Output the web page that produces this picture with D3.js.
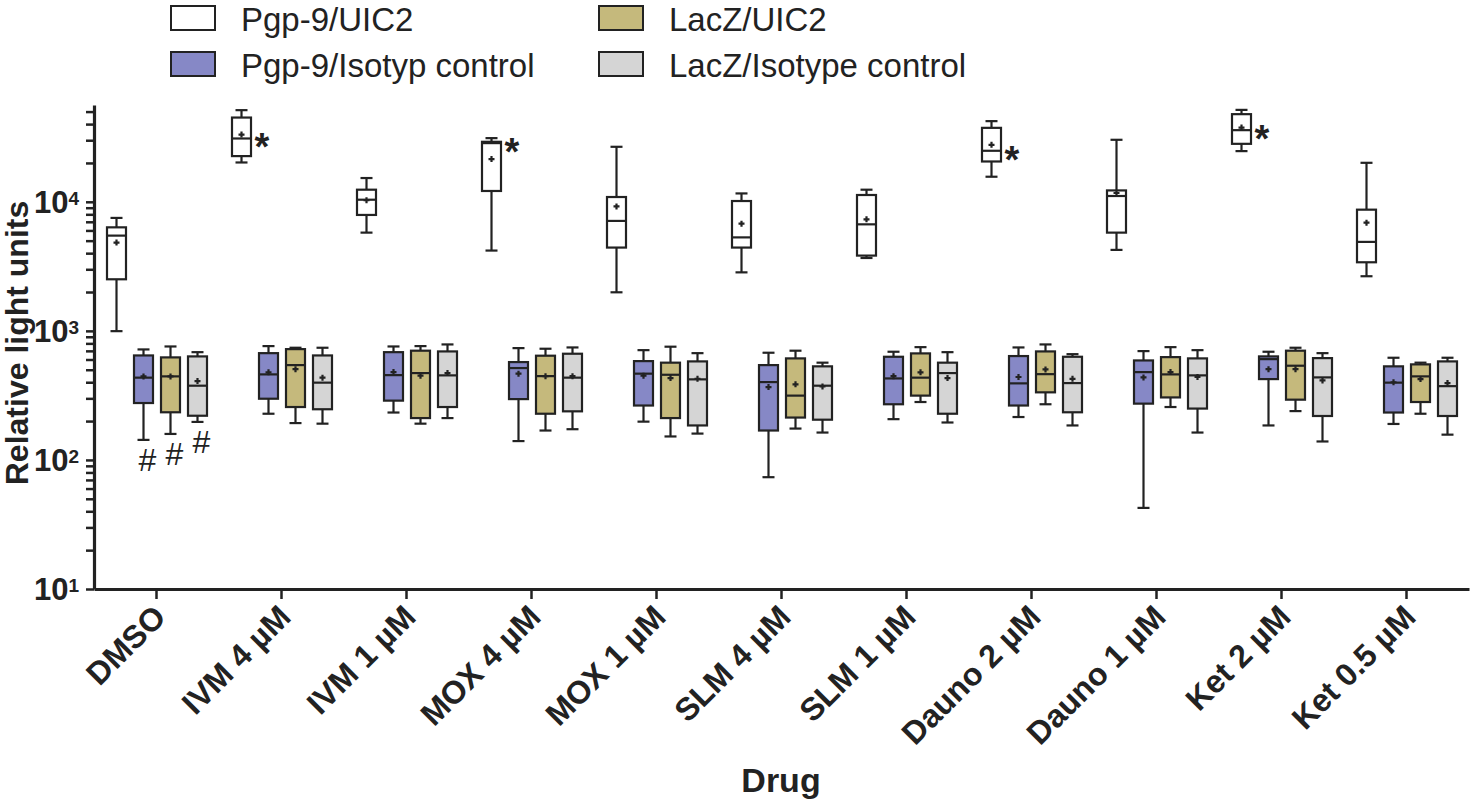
<!DOCTYPE html>
<html>
<head>
<meta charset="utf-8">
<script src="https://cdn.jsdelivr.net/npm/d3@7"></script>
<style>
	body { margin: 0; background: #fff; }
	svg { display: block; font-family: "Liberation Sans", Arial, sans-serif; }
	.axis path, .axis line { stroke: #222; }
	.box { stroke: #222; stroke-width: 2.2; }
	.whisker, .median, .mean { stroke: #222; stroke-width: 2.2; }
</style>
</head>
<body>
<div id="chart"></div>
<script>

// categories and series
var drugs = ["DMSO", "IVM 4 µM", "IVM 1 µM", "MOX 4 µM", "MOX 1 µM", "SLM 4 µM",
	"SLM 1 µM", "Dauno 2 µM", "Dauno 1 µM", "Ket 2 µM", "Ket 0.5 µM"];

var seriesNames = ["Pgp-9/UIC2", "Pgp-9/Isotyp control", "LacZ/UIC2", "LacZ/Isotype control"];

// rows per drug: [min, q1, median, q3, max, mean]
var pgpUic2 = [
	[995, 2510, 5470, 6340, 7500, 4830],
	[20170, 22600, 30940, 44950, 51300, 33200],
	[5770, 7910, 10380, 12410, 15280, 10300],
	[4190, 12130, 28490, 29170, 31140, 21430],
	[1990, 4420, 7110, 10890, 26680, 9210],
	[2840, 4420, 5300, 10140, 11610, 6770],
	[3670, 3830, 6690, 11290, 12410, 7310],
	[15640, 20530, 24850, 37410, 42170, 27650],
	[4240, 5770, 11090, 12250, 30230, 11700],
	[24700, 28130, 35900, 47750, 51550, 37600],
	[2650, 3400, 4890, 8690, 20050, 6890]
];

var pgpIso = [
	[143, 276, 434, 645, 718, 444],
	[228, 298, 460, 672, 762, 477],
	[233, 288, 454, 684, 757, 479],
	[140, 296, 515, 573, 735, 466],
	[198, 264, 466, 583, 709, 450],
	[73.5, 169, 401, 543, 677, 367],
	[207, 270, 428, 630, 689, 446],
	[215, 264, 392, 638, 744, 439],
	[42.5, 273, 479, 590, 697, 436],
	[185, 423, 604, 634, 689, 505],
	[190, 233, 397, 531, 619, 400]
];

var lacUic2 = [
	[159, 234, 444, 623, 757, 444],
	[193, 257, 543, 722, 740, 505],
	[191, 211, 471, 702, 762, 450],
	[169, 228, 446, 642, 727, 446],
	[152, 211, 457, 567, 754, 431],
	[175, 213, 315, 612, 702, 385],
	[281, 315, 434, 669, 748, 477],
	[270, 334, 462, 693, 785, 503],
	[257, 305, 460, 626, 748, 479],
	[239, 293, 537, 702, 740, 505],
	[228, 281, 444, 550, 567, 423]
];

var lacIso = [
	[197, 220, 376, 634, 684, 408],
	[191, 247, 397, 645, 740, 434],
	[211, 257, 452, 693, 785, 471],
	[173, 238, 434, 665, 744, 446],
	[160, 185, 421, 580, 672, 425],
	[163, 205, 376, 531, 567, 371],
	[195, 228, 471, 567, 684, 431],
	[185, 234, 394, 630, 660, 425],
	[163, 250, 452, 612, 709, 439],
	[139, 219, 436, 615, 672, 413],
	[157, 219, 373, 580, 619, 394]
];

var majorTicks = [10, 100, 1000, 10000];
var minorTicks = [20, 30, 40, 50, 60, 70, 80, 90, 200, 300, 400, 500, 600, 700, 800, 900,
	2000, 3000, 4000, 5000, 6000, 7000, 8000, 9000, 20000, 30000, 40000, 50000];

// significance marks
var starDrugs = ["IVM 4 µM", "MOX 4 µM", "Dauno 2 µM", "Ket 2 µM"];
var hashDrug = "DMSO";
var hashSeries = ["Pgp-9/Isotyp control", "LacZ/UIC2", "LacZ/Isotype control"];

var chart = {
	width: 1474,
	height: 800,
	left: 94,
	right: 1469,
	top: 105,
	bottom: 589
};

var allSeries = [pgpUic2, pgpIso, lacUic2, lacIso];
var boxes = [];
allSeries.forEach(function (rows, s) {
	rows.forEach(function (r, i) {
		boxes.push({
			drug: drugs[i], series: seriesNames[s],
			min: r[0], q1: r[1], median: r[2], q3: r[3], max: r[4], mean: r[5]
		});
	});
});

var color = d3.scaleOrdinal()
	.domain(seriesNames)
	.range(["#ffffff", "#8688c6", "#c5b97c", "#d5d5d5"]);

var svg = d3.select("#chart")
	.append("svg")
	.attr("width", chart.width)
	.attr("height", chart.height);

var x = d3.scaleBand()
	.domain(drugs)
	.range([chart.left, chart.right]);

var offset = d3.scalePoint()
	.domain(seriesNames)
	.range([-40, 41]);

var y = d3.scaleLog()
	.domain([10, Math.pow(10, 4.75)])
	.range([chart.bottom, chart.top]);

var boxW = 19, capW = 12;

// y axis
var yAxis = d3.axisLeft(y)
	.tickValues(majorTicks.concat(minorTicks))
	.tickSize(8)
	.tickSizeOuter(0)
	.tickFormat("");

var gy = svg.append("g")
	.attr("class", "axis")
	.attr("transform", "translate(" + chart.left + ",0)")
	.call(yAxis);

gy.select(".domain").attr("stroke-width", 3.2);
gy.selectAll(".tick line").attr("stroke-width", 2.5);

var yLabels = svg.append("g")
	.selectAll("text")
	.data(majorTicks)
	.join("text")
	.attr("x", 79)
	.attr("y", function (d) { return y(d) + 11; })
	.attr("text-anchor", "end")
	.attr("font-weight", "bold")
	.attr("font-size", 31)
	.attr("fill", "#222");

yLabels.append("tspan").text("10");
yLabels.append("tspan")
	.attr("font-size", 19)
	.attr("dy", -8)
	.text(function (d) { return Math.round(Math.log10(d)); });

// x axis
var xAxis = d3.axisBottom(x)
	.tickSize(10)
	.tickSizeOuter(0)
	.tickFormat("");

var gx = svg.append("g")
	.attr("class", "axis")
	.attr("transform", "translate(0," + chart.bottom + ")")
	.call(xAxis);

gx.select(".domain").attr("stroke-width", 3.2);
gx.selectAll(".tick line").attr("stroke-width", 2.5);

svg.append("g")
	.selectAll("text")
	.data(drugs)
	.join("text")
	.attr("transform", function (d) {
		return "translate(" + (x(d) + x.bandwidth() / 2 + 11) + "," + (chart.bottom + 30) + ") rotate(-45)";
	})
	.attr("text-anchor", "end")
	.attr("font-weight", "bold")
	.attr("font-size", 32)
	.attr("fill", "#222")
	.text(function (d) { return d; });

// axis titles
svg.append("text")
	.attr("transform", "translate(28," + ((chart.top + chart.bottom) / 2 - 4) + ") rotate(-90)")
	.attr("text-anchor", "middle")
	.attr("font-weight", "bold")
	.attr("font-size", 32)
	.attr("fill", "#222")
	.text("Relative light units");

svg.append("text")
	.attr("x", 781)
	.attr("y", 792)
	.attr("text-anchor", "middle")
	.attr("font-weight", "bold")
	.attr("font-size", 34)
	.attr("fill", "#222")
	.text("Drug");

// boxes
function cx(d) {
	return x(d.drug) + x.bandwidth() / 2 + offset(d.series);
}

var node = svg.append("g")
	.selectAll("g")
	.data(boxes)
	.join("g")
	.attr("class", "node");

node.append("line")
	.attr("class", "whisker")
	.attr("x1", cx).attr("x2", cx)
	.attr("y1", function (d) { return y(d.max); })
	.attr("y2", function (d) { return y(d.min); });

node.selectAll(".cap")
	.data(function (d) { return [d, d]; })
	.join("line")
	.attr("class", "whisker cap")
	.attr("x1", function (d) { return cx(d) - capW / 2; })
	.attr("x2", function (d) { return cx(d) + capW / 2; })
	.attr("y1", function (d, i) { return y(i ? d.min : d.max); })
	.attr("y2", function (d, i) { return y(i ? d.min : d.max); });

node.append("rect")
	.attr("class", "box")
	.attr("x", function (d) { return cx(d) - boxW / 2; })
	.attr("y", function (d) { return y(d.q3); })
	.attr("width", boxW)
	.attr("height", function (d) { return y(d.q1) - y(d.q3); })
	.attr("fill", function (d) { return color(d.series); });

node.append("line")
	.attr("class", "median")
	.attr("x1", function (d) { return cx(d) - boxW / 2; })
	.attr("x2", function (d) { return cx(d) + boxW / 2; })
	.attr("y1", function (d) { return y(d.median); })
	.attr("y2", function (d) { return y(d.median); });

// mean marker "+"
node.append("path")
	.attr("class", "mean")
	.attr("d", function (d) {
		var px = cx(d), py = y(d.mean);
		return "M" + (px - 3) + "," + py + "H" + (px + 3) + "M" + px + "," + (py - 3) + "V" + (py + 3);
	});

// asterisks
svg.append("g")
	.selectAll("text")
	.data(boxes.filter(function (d) {
		return d.series === seriesNames[0] && starDrugs.indexOf(d.drug) > -1;
	}))
	.join("text")
	.attr("x", function (d) { return cx(d) + boxW / 2 + 11; })
	.attr("y", function (d) { return y(d.median) + 22; })
	.attr("text-anchor", "middle")
	.attr("font-weight", "bold")
	.attr("font-size", 38)
	.attr("fill", "#222")
	.text("*");

// hashes
svg.append("g")
	.selectAll("text")
	.data(boxes.filter(function (d) {
		return d.drug === hashDrug && hashSeries.indexOf(d.series) > -1;
	}))
	.join("text")
	.attr("x", function (d) { return cx(d) + 4; })
	.attr("y", function (d) { return y(d.min) + 31; })
	.attr("text-anchor", "middle")
	.attr("font-size", 32)
	.attr("fill", "#222")
	.text("#");

// legend
var legend = svg.append("g")
	.selectAll("g")
	.data(seriesNames)
	.join("g")
	.attr("transform", function (d, i) {
		return "translate(" + (i < 2 ? 171 : 599) + "," + (i % 2 ? 52 : 6) + ")";
	});

legend.append("rect")
	.attr("width", 44)
	.attr("height", 24)
	.attr("fill", function (d) { return color(d); })
	.attr("stroke", "#222")
	.attr("stroke-width", 2);

legend.append("text")
	.attr("x", 70)
	.attr("y", 25)
	.attr("font-size", 33)
	.attr("fill", "#222")
	.text(function (d) { return d; });

</script>
</body>
</html>
